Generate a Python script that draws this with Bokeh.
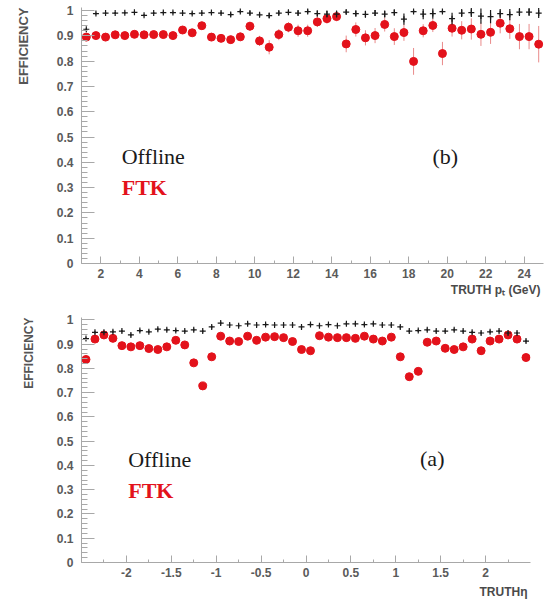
import math
from bokeh.plotting import figure
from bokeh.layouts import column
from bokeh.models import (Range1d, FixedTicker, CustomJSTickFormatter, Label,
                          ColumnDataSource, Title)
from bokeh.embed import file_html
from bokeh.resources import INLINE

# ---- efficiency vs truth pT (panel b) ----
pt_bins = [1.25, 1.75, 2.25, 2.75, 3.25, 3.75, 4.25, 4.75, 5.25, 5.75,
           6.25, 6.75, 7.25, 7.75, 8.25, 8.75, 9.25, 9.75, 10.25, 10.75,
           11.25, 11.75, 12.25, 12.75, 13.25, 13.75, 14.25, 14.75, 15.25, 15.75,
           16.25, 16.75, 17.25, 17.75, 18.25, 18.75, 19.25, 19.75, 20.25, 20.75,
           21.25, 21.75, 22.25, 22.75, 23.25, 23.75, 24.25, 24.75]
pt_offline = [0.926, 0.988, 0.990, 0.990, 0.991, 0.993, 0.981, 0.990, 0.992, 0.992,
              0.990, 0.988, 0.990, 0.992, 0.990, 0.984, 0.996, 0.990, 0.983, 0.980,
              0.990, 0.993, 0.990, 0.996, 0.988, 0.986, 0.986, 0.994, 0.988, 0.985,
              0.990, 0.986, 0.992, 0.966, 0.996, 0.986, 0.988, 0.996, 0.968, 0.990,
              0.992, 0.978, 0.976, 0.988, 0.984, 0.994, 0.994, 0.990]
pt_offline_err = [0.004, 0.004, 0.004, 0.004, 0.004, 0.004, 0.004, 0.004, 0.004, 0.004,
                  0.005, 0.005, 0.005, 0.005, 0.006, 0.008, 0.006, 0.008, 0.008, 0.010,
                  0.008, 0.008, 0.010, 0.008, 0.012, 0.014, 0.014, 0.008, 0.012, 0.014,
                  0.012, 0.014, 0.012, 0.022, 0.006, 0.020, 0.020, 0.006, 0.023, 0.016,
                  0.018, 0.030, 0.026, 0.018, 0.022, 0.016, 0.016, 0.020]
pt_ftk = [0.895, 0.901, 0.895, 0.904, 0.901, 0.906, 0.904, 0.905, 0.905, 0.901,
          0.923, 0.912, 0.940, 0.895, 0.890, 0.885, 0.896, 0.938, 0.880, 0.855,
          0.905, 0.934, 0.920, 0.920, 0.955, 0.968, 0.976, 0.868, 0.925, 0.892,
          0.901, 0.945, 0.897, 0.913, 0.799, 0.920, 0.941, 0.830, 0.930, 0.922,
          0.927, 0.906, 0.914, 0.950, 0.928, 0.897, 0.897, 0.867]
pt_ftk_err = [0.008, 0.008, 0.008, 0.008, 0.008, 0.008, 0.008, 0.008, 0.009, 0.009,
              0.010, 0.010, 0.012, 0.012, 0.014, 0.015, 0.016, 0.018, 0.020, 0.028,
              0.022, 0.020, 0.024, 0.024, 0.020, 0.020, 0.018, 0.033, 0.028, 0.030,
              0.030, 0.028, 0.033, 0.033, 0.053, 0.026, 0.026, 0.046, 0.033, 0.036,
              0.042, 0.046, 0.046, 0.040, 0.040, 0.050, 0.050, 0.072]
pt_major = [2, 4, 6, 8, 10, 12, 14, 16, 18, 20, 22, 24]
pt_minor = [3, 5, 7, 9, 11, 13, 15, 17, 19, 21, 23]

# ---- efficiency vs truth eta (panel a) ----
eta_bins = [-2.45, -2.35, -2.25, -2.15, -2.05, -1.95, -1.85, -1.75, -1.65, -1.55,
            -1.45, -1.35, -1.25, -1.15, -1.05, -0.95, -0.85, -0.75, -0.65, -0.55,
            -0.45, -0.35, -0.25, -0.15, -0.05, 0.05, 0.15, 0.25, 0.35, 0.45,
            0.55, 0.65, 0.75, 0.85, 0.95, 1.05, 1.15, 1.25, 1.35, 1.45,
            1.55, 1.65, 1.75, 1.85, 1.95, 2.05, 2.15, 2.25, 2.35, 2.45]
eta_offline = [0.923, 0.949, 0.949, 0.951, 0.954, 0.938, 0.956, 0.951, 0.962, 0.959,
               0.956, 0.954, 0.959, 0.954, 0.971, 0.987, 0.979, 0.976, 0.984, 0.979,
               0.981, 0.979, 0.979, 0.979, 0.971, 0.981, 0.976, 0.981, 0.976, 0.984,
               0.984, 0.981, 0.984, 0.979, 0.979, 0.971, 0.954, 0.956, 0.959, 0.954,
               0.954, 0.959, 0.954, 0.949, 0.946, 0.951, 0.954, 0.946, 0.946, 0.913]
eta_offline_err = [0.006] * 50
eta_ftk = [0.837, 0.921, 0.938, 0.924, 0.894, 0.889, 0.894, 0.882, 0.878, 0.889,
           0.916, 0.897, 0.823, 0.728, 0.848, 0.933, 0.913, 0.911, 0.933, 0.916,
           0.929, 0.931, 0.927, 0.911, 0.878, 0.873, 0.935, 0.929, 0.927, 0.927,
           0.924, 0.933, 0.921, 0.913, 0.929, 0.848, 0.766, 0.788, 0.908, 0.913,
           0.883, 0.878, 0.889, 0.921, 0.873, 0.913, 0.921, 0.938, 0.921, 0.845]
eta_ftk_err = [0.006] * 50
eta_major = [-2, -1.5, -1, -0.5, 0, 0.5, 1, 1.5, 2]
eta_minor = [-2.25, -1.75, -1.25, -0.75, -0.25, 0.25, 0.75, 1.25, 1.75, 2.25]

eff_major = [0, 0.1, 0.2, 0.3, 0.4, 0.5, 0.6, 0.7, 0.8, 0.9, 1.0]
eff_minor = [i / 50 for i in range(51)]

RED = "#e3121b"
RED_ERR = "#e98a8a"
BLACK = "#1a1a1a"
AXIS_GREY = "#a8a8a8"
TICK_TEXT = "#5a5a5a"
TITLE_TEXT = "#4a4a4a"
SANS = "Liberation Sans"
SERIF = "Liberation Serif"

fmt = CustomJSTickFormatter(code="return String(Math.round(tick * 10) / 10);")


def style_axes(p, x_major, x_minor):
    p.xaxis.ticker = FixedTicker(ticks=x_major, minor_ticks=x_minor)
    p.yaxis.ticker = FixedTicker(ticks=eff_major, minor_ticks=eff_minor)
    for ax in (p.xaxis[0], p.yaxis[0]):
        ax.formatter = fmt
        ax.axis_line_color = AXIS_GREY
        ax.major_tick_line_color = AXIS_GREY
        ax.minor_tick_line_color = AXIS_GREY
        ax.major_tick_out = 0
        ax.minor_tick_out = 0
        ax.major_label_text_font = SANS
        ax.major_label_text_font_style = "bold"
        ax.major_label_text_font_size = "12px"
        ax.major_label_text_color = TICK_TEXT
    p.yaxis.major_tick_in = 13
    p.yaxis.minor_tick_in = 6
    p.yaxis.major_label_standoff = 8
    p.xaxis.major_tick_in = 7
    p.xaxis.minor_tick_in = 3
    p.xaxis.major_label_standoff = 5
    p.grid.visible = False
    p.outline_line_color = None


def draw_series(p, xs, off, off_err, ftk, ftk_err):
    off_src = ColumnDataSource(dict(
        x=xs, y=off, lo=[v - e for v, e in zip(off, off_err)],
        hi=[v + e for v, e in zip(off, off_err)]))
    ftk_src = ColumnDataSource(dict(
        x=xs, y=ftk, lo=[v - e for v, e in zip(ftk, ftk_err)],
        hi=[v + e for v, e in zip(ftk, ftk_err)]))
    # FTK points with their errors
    p.segment(x0="x", y0="lo", x1="x", y1="hi", source=ftk_src,
              line_color=RED_ERR, line_width=1)
    p.scatter(x="x", y="y", source=ftk_src, size=8, marker="circle",
              fill_color=RED, line_color=RED)
    # offline points: vertical error bar plus a short horizontal arm
    p.segment(x0="x", y0="lo", x1="x", y1="hi", source=off_src,
              line_color=BLACK, line_width=1.2)
    p.scatter(x="x", y="y", source=off_src, size=6, marker="cross",
              line_color=BLACK, line_width=1.2)


def add_text(p, x, y, text, size, color=BLACK, style="normal"):
    p.add_layout(Label(x=x, y=y, text=text, text_font=SERIF,
                       text_font_size=size, text_color=color,
                       text_font_style=style, text_baseline="alphabetic"))


def add_axis_titles(p, ylabel, ysize, ygap, xlabel, xstandoff):
    # a blank, tiny axis label on the y axis keeps a gap before the title
    ya = p.yaxis[0]
    ya.axis_label = " "
    ya.axis_label_text_font_size = "1px"
    ya.axis_label_standoff = ygap
    p.add_layout(Title(text=ylabel, align="right", text_font=SANS,
                       text_font_size=ysize, text_font_style="bold",
                       text_color="#555555", standoff=0), "left")
    p.add_layout(Title(text=xlabel, align="right", text_font=SANS,
                       text_font_size="12px", text_font_style="bold",
                       text_color=TITLE_TEXT, standoff=xstandoff, offset=3),
                 "below")


# ---- top panel ----
top = figure(width=558, height=300, output_backend="svg", toolbar_location=None,
             x_range=Range1d(1, 25), y_range=Range1d(0, 1.012),
             min_border_left=81, min_border_right=15,
             min_border_top=7, min_border_bottom=37)
style_axes(top, pt_major, pt_minor)
draw_series(top, pt_bins, pt_offline, pt_offline_err, pt_ftk, pt_ftk_err)
add_text(top, 3.09, 0.423, "Offline", "22px")
add_text(top, 3.09, 0.300, "FTK", "22px", color=RED, style="bold")
add_text(top, 19.23, 0.423, "(b)", "22px")
add_axis_titles(top, "EFFICIENCY", "13px", 19, "TRUTH p\u209c (GeV)", 0)

# ---- bottom panel ----
bot = figure(width=545, height=301, output_backend="svg", toolbar_location=None,
             x_range=Range1d(-2.5, 2.5), y_range=Range1d(0, 1.01),
             min_border_left=81, min_border_right=15,
             min_border_top=17, min_border_bottom=37)
style_axes(bot, eta_major, eta_minor)
draw_series(bot, eta_bins, eta_offline, eta_offline_err, eta_ftk, eta_ftk_err)
add_text(bot, -1.98, 0.425, "Offline", "22px")
add_text(bot, -1.98, 0.296, "FTK", "22px", color=RED, style="bold")
add_text(bot, 1.27, 0.429, "(a)", "22px")
add_axis_titles(bot, "EFFICIENCY", "12px", 14, "TRUTH\u03b7", 6)

layout = column(top, bot)
open("out.html", "w").write(file_html(layout, INLINE))
